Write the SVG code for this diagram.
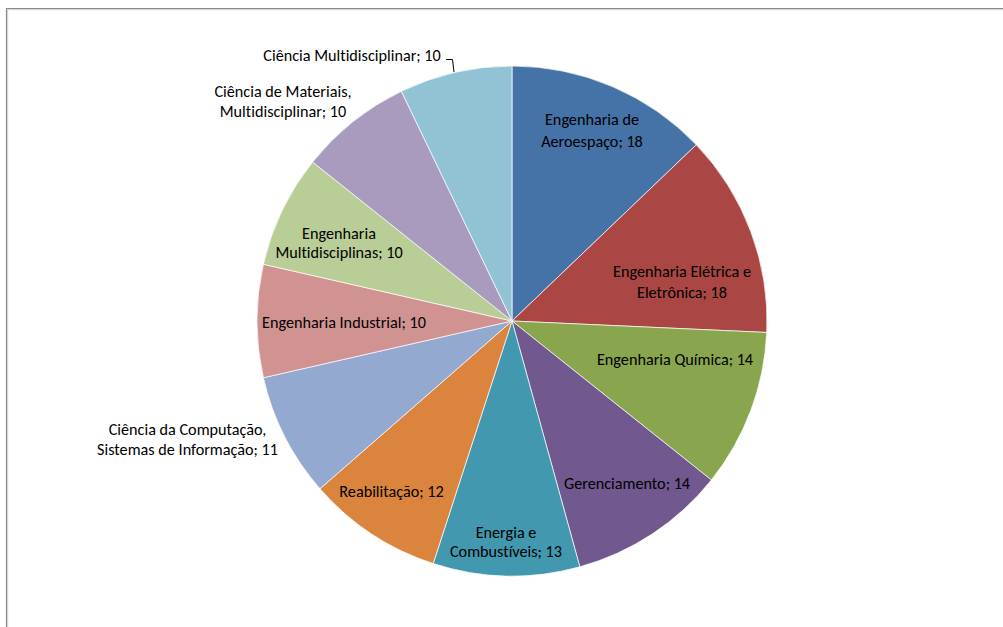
<svg xmlns="http://www.w3.org/2000/svg" width="1003" height="627" viewBox="0 0 1003 627">
<style>
.s{stroke:#ffffff;stroke-width:0.7;stroke-linejoin:round}
.t{font-family:Carlito,Calibri,Lato,"Liberation Sans",sans-serif;font-size:16.2px;fill:#000;text-anchor:middle;font-variant-ligatures:none}
</style>
<rect x="0" y="0" width="1003" height="627" fill="#ffffff"/>
<g id="frame" fill="none">
<path d="M6.5,627 V8.5 H1003" stroke="#8a8a8a" stroke-width="1.2"/>
<path d="M7.7,627 V9.7 H1003" stroke="#cfcfcf" stroke-width="1"/>
</g>
<g id="slices">
<g id="aeroespaco"><path class="s" fill="#4572A7" d="M512,321 L512,66 A255,255 0 0 1 696.31,144.78 Z"/>
<text class="t" x="592" y="125">Engenharia de</text><text class="t" x="592" y="147">Aeroespaço; 18</text></g>
<g id="eletrica"><path class="s" fill="#AA4643" d="M512,321 L696.31,144.78 A255,255 0 0 1 766.74,332.44 Z"/>
<text class="t" x="682" y="277">Engenharia Elétrica e</text><text class="t" x="682" y="298">Eletrônica; 18</text></g>
<g id="quimica"><path class="s" fill="#89A54E" d="M512,321 L766.74,332.44 A255,255 0 0 1 711.37,479.99 Z"/>
<text class="t" x="675" y="365">Engenharia Química; 14</text></g>
<g id="gerenciamento"><path class="s" fill="#71588F" d="M512,321 L711.37,479.99 A255,255 0 0 1 579.84,566.81 Z"/>
<text class="t" x="627" y="489">Gerenciamento; 14</text></g>
<g id="energia"><path class="s" fill="#4198AF" d="M512,321 L579.84,566.81 A255,255 0 0 1 433.20,563.52 Z"/>
<text class="t" x="506" y="538">Energia e</text><text class="t" x="506" y="557">Combustíveis; 13</text></g>
<g id="reabilitacao"><path class="s" fill="#DB843D" d="M512,321 L433.20,563.52 A255,255 0 0 1 319.98,488.79 Z"/>
<text class="t" x="391.5" y="497">Reabilitação; 12</text></g>
<g id="computacao"><path class="s" fill="#93A9CF" d="M512,321 L319.98,488.79 A255,255 0 0 1 263.39,377.74 Z"/>
<text class="t" x="187.5" y="435">Ciência da Computação,</text><text class="t" x="187.5" y="455">Sistemas de Informação; 11</text></g>
<g id="industrial"><path class="s" fill="#D19392" d="M512,321 L263.39,377.74 A255,255 0 0 1 263.39,264.26 Z"/>
<text class="t" x="344" y="328">Engenharia Industrial; 10</text></g>
<g id="engmulti"><path class="s" fill="#B9CD96" d="M512,321 L263.39,264.26 A255,255 0 0 1 312.63,162.01 Z"/>
<text class="t" x="339" y="239">Engenharia</text><text class="t" x="339" y="258">Multidisciplinas; 10</text></g>
<g id="materiais"><path class="s" fill="#A99BBD" d="M512,321 L312.63,162.01 A255,255 0 0 1 401.36,91.25 Z"/>
<text class="t" x="283" y="97">Ciência de Materiais,</text><text class="t" x="283" y="117">Multidisciplinar; 10</text></g>
<g id="cienciamulti"><path class="s" fill="#92C3D5" d="M512,321 L401.36,91.25 A255,255 0 0 1 512,66 Z"/>
<text class="t" x="352" y="61">Ciência Multidisciplinar; 10</text></g>
</g>
<g id="connectors">
<polyline points="446,59.5 452.5,59.5 454,72" fill="none" stroke="#000" stroke-width="1"/>
</g>
</svg>
